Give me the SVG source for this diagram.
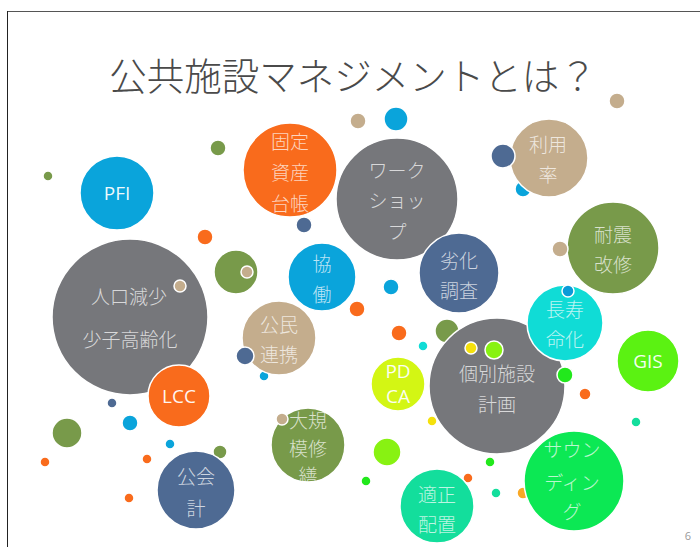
<svg xmlns="http://www.w3.org/2000/svg" width="700" height="547" viewBox="0 0 700 547">
<style>
.c{stroke:#fff;stroke-width:1.5}
.t{font-family:"Noto Sans CJK JP","Noto Sans",sans-serif;font-weight:300;font-size:19px;fill:#fff;fill-opacity:.72;text-anchor:middle;dominant-baseline:central}
.l{font-family:"Open Sans","Noto Sans",sans-serif;font-size:19px;fill:#fff;fill-opacity:.95;text-anchor:middle;dominant-baseline:central}
.blue{fill:#0AA4DB}.orange{fill:#F96B1C}.gray{fill:#76777B}.navy{fill:#4E6A93}.tan{fill:#C4AD8D}.olive{fill:#789A4A}
.cyan{fill:#10DCD6}.gis{fill:#5BF212}.pdca{fill:#D3F614}.lime{fill:#88F212}.green{fill:#0CE854}.bgreen{fill:#22E81C}.teal{fill:#13DE9C}.yellow{fill:#F5E10C}.amber{fill:#F9A825}
</style>
<rect width="700" height="547" fill="#fff"/>
<line x1="7" y1="11.5" x2="700" y2="11.5" stroke="#555" stroke-width="1"/>
<line x1="7.5" y1="11" x2="7.5" y2="547" stroke="#222" stroke-width="1"/>
<text x="353" y="90" font-family="'Noto Sans CJK JP','Noto Sans',sans-serif" font-weight="300" font-size="37.5" fill="#4a4a4a" text-anchor="middle">公共施設マネジメントとは？</text>

<g id="dots-back">
<circle class="c blue" cx="523" cy="189" r="8"/>
<circle class="c blue" cx="264" cy="376" r="5"/>
<circle class="c olive" cx="447" cy="331" r="12"/>
<circle class="c olive" cx="220" cy="452" r="7"/>
<circle class="c amber" cx="523" cy="493" r="6"/>
</g>

<g id="dots">
<circle class="c olive" cx="48" cy="176" r="5"/>
<circle class="c olive" cx="218" cy="148" r="8"/>
<circle class="c tan" cx="358" cy="121" r="8"/>
<circle class="c blue" cx="396" cy="119" r="12"/>
<circle class="c tan" cx="617" cy="101" r="8"/>
<circle class="c navy" cx="304" cy="225" r="8"/>
<circle class="c orange" cx="205" cy="237" r="8"/>
<circle class="c orange" cx="357" cy="309" r="8"/>
<circle class="c blue" cx="391" cy="287" r="8"/>
<circle class="c orange" cx="399" cy="333" r="8"/>
<circle class="c cyan" cx="423" cy="346" r="5"/>
<circle class="c navy" cx="112" cy="403" r="5"/>
<circle class="c blue" cx="130" cy="423" r="8"/>
<circle class="c olive" cx="67" cy="433" r="15"/>
<circle class="c blue" cx="170" cy="444" r="5"/>
<circle class="c orange" cx="45" cy="462" r="5"/>
<circle class="c orange" cx="147" cy="459" r="5"/>
<circle class="c orange" cx="129" cy="498" r="5"/>
<circle class="c yellow" cx="432" cy="421" r="5"/>
<circle class="c lime" cx="387" cy="452" r="14"/>
<circle class="c bgreen" cx="490" cy="462" r="5"/>
<circle class="c bgreen" cx="366" cy="481" r="5"/>
<circle class="c orange" cx="468" cy="478" r="5"/>
<circle class="c teal" cx="496" cy="493" r="5"/>
<circle class="c orange" cx="585" cy="394" r="6"/>
<circle class="c teal" cx="636" cy="422" r="5"/>
<circle class="c olive" cx="236" cy="272" r="22"/>
<circle class="c tan" cx="247" cy="272" r="6"/>
</g>

<g id="node-pfi"><circle class="c blue" cx="117" cy="193" r="37"/><text class="l" x="117" y="193">PFI</text></g>
<g id="node-kotei"><circle class="c orange" cx="290" cy="170" r="47"/><text class="t" x="290" y="140">固定</text><text class="t" x="290" y="171">資産</text><text class="t" x="290" y="202">台帳</text></g>
<g id="node-workshop"><circle class="c gray" cx="397" cy="199" r="61"/><text class="t" x="397" y="169">ワーク</text><text class="t" x="397" y="199">ショッ</text><text class="t" x="397" y="230">プ</text></g>
<g id="node-riyo"><circle class="c tan" cx="549" cy="158" r="39"/><text class="t" x="548" y="143">利用</text><text class="t" x="548" y="173">率</text></g>
<circle class="c navy" cx="503" cy="156" r="12"/>
<g id="node-rekka"><circle class="c navy" cx="459" cy="273" r="40"/><text class="t" x="459" y="259">劣化</text><text class="t" x="459" y="289">調査</text></g>
<g id="node-taishin"><circle class="c olive" cx="613" cy="248" r="46"/><text class="t" x="613" y="233">耐震</text><text class="t" x="613" y="263">改修</text></g>
<circle class="c tan" cx="560" cy="249" r="8"/>
<g id="node-kyodo"><circle class="c blue" cx="322" cy="277" r="34"/><text class="t" x="322" y="262">協</text><text class="t" x="322" y="293">働</text></g>
<g id="node-jinko"><circle class="c gray" cx="130" cy="317" r="78"/><text class="t" x="129" y="295">人口減少</text><text class="t" x="130" y="338">少子高齢化</text><circle class="c tan" cx="180" cy="286" r="6"/></g>
<g id="node-komin"><circle class="c tan" cx="279" cy="338" r="37"/><text class="t" x="279" y="323">公民</text><text class="t" x="279" y="353">連携</text></g>
<circle class="c navy" cx="245" cy="356" r="9"/>
<g id="node-kobetsu"><circle class="c gray" cx="497" cy="386" r="68"/><text class="t" x="497" y="372">個別施設</text><text class="t" x="497" y="403">計画</text><circle class="c yellow" cx="471" cy="348" r="6"/><circle class="c lime" cx="494" cy="350" r="9"/></g>
<g id="node-chouju"><circle class="c cyan" cx="565" cy="323" r="38"/><text class="t" x="565" y="308">長寿</text><text class="t" x="565" y="338">命化</text><circle class="c" fill="#0A9BD8" cx="568" cy="291" r="6"/></g>
<circle class="c bgreen" cx="565" cy="375" r="8"/>
<g id="node-gis"><circle class="c gis" cx="648" cy="361" r="31"/><text class="l" x="648" y="361">GIS</text></g>
<g id="node-pdca"><circle class="c pdca" cx="398" cy="384" r="27"/><text class="l" x="398" y="371">PD</text><text class="l" x="398" y="396">CA</text></g>
<g id="node-lcc"><circle class="c orange" cx="179" cy="396" r="31"/><text class="l" x="179" y="396">LCC</text></g>
<g id="node-kokaikei"><circle class="c navy" cx="196" cy="490" r="39"/><text class="t" x="196" y="475">公会</text><text class="t" x="196" y="507">計</text></g>
<g id="node-daikibo"><circle class="c olive" cx="308" cy="445" r="37"/><text class="t" x="308" y="419">大規</text><text class="t" x="308" y="447">模修</text><text class="t" x="308" y="474">繕</text><circle class="c tan" cx="282" cy="419" r="6"/></g>
<g id="node-tekisei"><circle class="c teal" cx="437" cy="506" r="37"/><text class="t" x="437" y="493">適正</text><text class="t" x="437" y="523">配置</text></g>
<g id="node-sounding"><circle class="c green" cx="574" cy="481" r="50"/><text class="t" x="572" y="448">サウン</text><text class="t" x="572" y="481">ディン</text><text class="t" x="572" y="510">グ</text></g>
<text x="688" y="540" font-family="'Open Sans','Noto Sans',sans-serif" font-size="11" fill="#999" text-anchor="middle">6</text>
</svg>
